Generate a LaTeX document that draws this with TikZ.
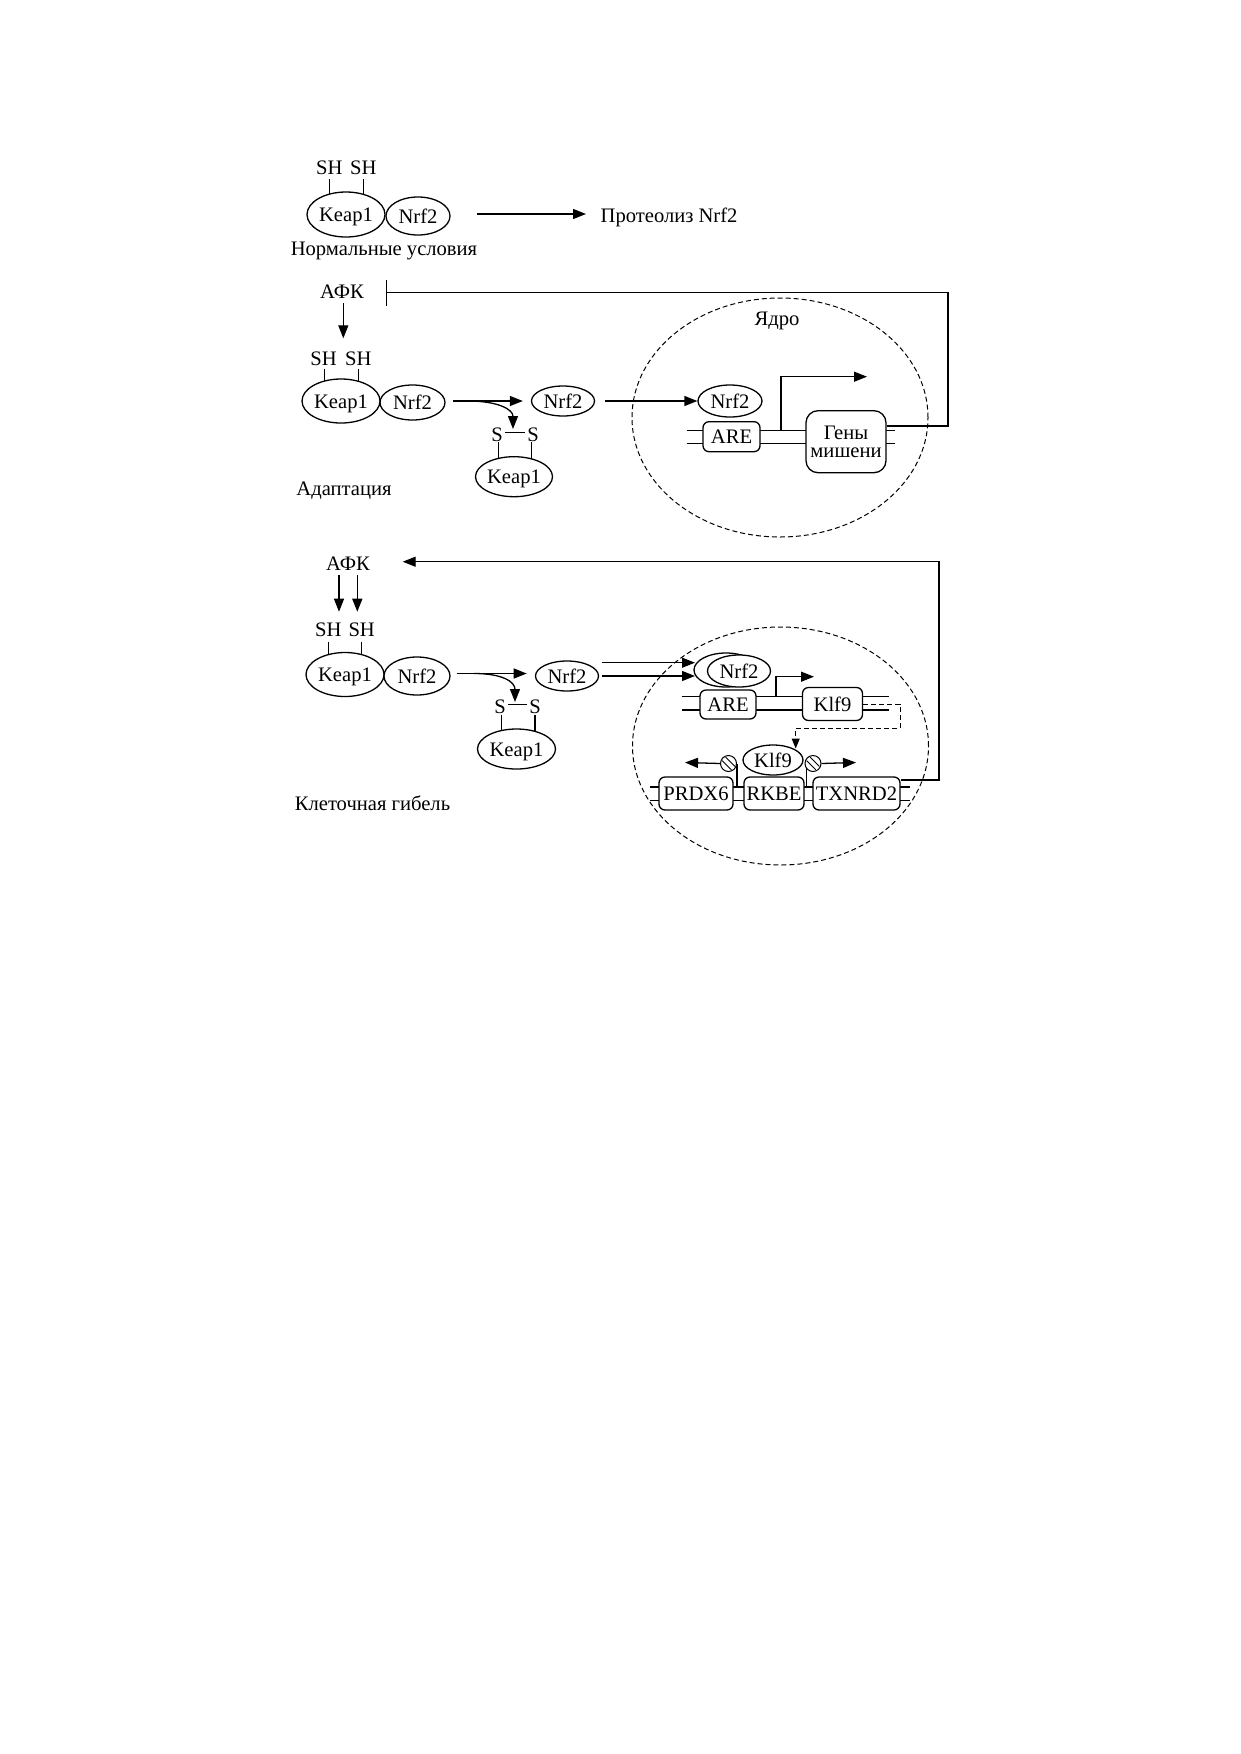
\documentclass[tikz,border=0pt]{standalone}
\usepackage{fontspec}
\setmainfont{Liberation Serif}
\usetikzlibrary{shapes.geometric,arrows.meta}
\begin{document}
\begin{tikzpicture}[x=1pt,y=-1pt,line width=1.3pt,
  font=\fontsize{20.6}{17.4}\selectfont,
  >={Triangle[length=13pt,width=10pt]},
  oval/.style={draw,ellipse,inner sep=0pt,text height=14pt,text depth=0pt,fill=white},
  gbox/.style={draw,fill=white,rounded corners=6pt,inner sep=0pt,text height=14pt,text depth=0pt},
  genebox/.style={draw,fill=white,rounded corners=12pt,inner sep=0pt,align=center},
  lbl/.style={inner sep=0pt,anchor=base},
  nucleus/.style={draw,ellipse,line width=1pt,dash pattern=on 5pt off 3pt,inner sep=0pt},
  dashline/.style={line width=1pt,dash pattern=on 5pt off 3pt},
  inhib/.style={circle,draw,line width=1pt,inner sep=0pt,minimum size=16pt,fill=white},
  hatch/.style={line width=0.9pt}]
\useasboundingbox (0,0) rectangle (1240,1754);
\fill[white] (0,0) rectangle (1240,1754);

% ---------------- Section 1: normal conditions
\node[lbl] (sh1a) at (329.3,174) {SH};
\node[lbl] (sh1b) at (363.3,174) {SH};
\draw ([yshift=-5pt]sh1a.base) -- ++(0,15);
\draw ([yshift=-5pt]sh1b.base) -- ++(0,15);
\node[oval,minimum width=78pt,minimum height=45pt] (k1) at (346,214.5) {Keap1};
\node[oval,minimum width=64pt,minimum height=38pt] (n1) at (418,216) {Nrf2};
\node[lbl,anchor=base west] (prot) at (600,222) {Протеолиз Nrf2};
\coordinate (a1s) at (477,214);
\coordinate (a1e) at (586,214);
\draw[->] (a1s) -- (a1e);
\node[lbl] (norm) at (384,255) {Нормальные условия};

% ---------------- Section 2: adaptation
\node[lbl] (afk2) at (342,298.5) {АФК};
\coordinate (a2s) at (343.3,303.3);
\coordinate (a2e) at (343.3,338.3);
\draw[->] (a2s) -- (a2e);
\node[lbl] (sh2a) at (323.5,365) {SH};
\node[lbl] (sh2b) at (358.3,365) {SH};
\draw ([xshift=0.8pt,yshift=-3.5pt]sh2a.base) -- ++(0,13);
\draw ([yshift=-3.5pt]sh2b.base) -- ++(0,13);
\node[oval,minimum width=78pt,minimum height=44pt] (k2) at (341,401) {Keap1};
\node[oval,minimum width=65pt,minimum height=35pt] (n2) at (412.5,402.5) {Nrf2};
\node[oval,minimum width=63pt,minimum height=30pt] (n2f) at (563,401) {Nrf2};
\coordinate (b2s) at (453.3,401);
\draw[->] (b2s) -- ([xshift=-8pt]n2f.west);
\coordinate (c2s) at (468,401);
\coordinate (c2e) at (513,429);
\draw[->] (c2s) .. controls (497,401) and (513,409) .. (c2e);
\node[lbl] (s2a) at (497,441) {S};
\node[lbl] (s2b) at (533,441) {S};
\draw ([xshift=2pt,yshift=2pt]s2a.east) -- ([xshift=-2pt,yshift=2pt]s2b.west);
\draw ([xshift=1.3pt,yshift=-1pt]s2a.base) -- ++(0,17);
\draw ([xshift=-1.3pt,yshift=-1pt]s2b.base) -- ++(0,17);
\node[oval,minimum width=77pt,minimum height=40pt] (k2b) at (514,476.7) {Keap1};
\node[lbl] (adapt) at (344,495) {Адаптация};

\node[nucleus,minimum width=296pt,minimum height=239pt] (nuc2) at (780,417.5) {};
\node[lbl] (yadro) at (777,325.5) {Ядро};
\coordinate (d2s) at (605,401);
\draw (686.7,430.7) -- (895,430.7);
\draw (686.7,443.3) -- (895,443.3);
\node[oval,minimum width=64pt,minimum height=32pt] (n2n) at (730,401) {Nrf2};
\draw[->] (d2s) -- (n2n.west);
\node[gbox,minimum width=57pt,minimum height=30pt] (are2) at (731.5,436.7) {ARE};
\node[genebox,minimum width=80pt,minimum height=62pt] (genes) at (846,441.7) {Гены\\мишени};
\coordinate (t2s) at (781,430.7);
\coordinate (t2e) at (867,376.7);
\draw[->] (t2s) |- (t2e);
\coordinate (f2s) at ([yshift=15.7pt]genes.east);
\coordinate (f2c) at (948,292.7);
\coordinate (f2e) at (386,292.7);
\draw[-{Bar[width=26pt]}] (f2s) -| (f2c) -- (f2e);

% ---------------- Section 3: cell death
\node[lbl] (afk3) at (348,570) {АФК};
\coordinate (a3s) at (339,575);
\coordinate (a3e) at (339,611.7);
\coordinate (a3s2) at (357.3,575);
\coordinate (a3e2) at (357.3,611.7);
\draw[->] (a3s) -- (a3e);
\draw[->] (a3s2) -- (a3e2);
\node[lbl] (sh3a) at (328.3,636.5) {SH};
\node[lbl] (sh3b) at (361.7,636.5) {SH};
\draw ([yshift=-5pt]sh3a.base) -- ++(0,13.5);
\draw ([yshift=-5pt]sh3b.base) -- ++(0,13.5);
\node[oval,minimum width=78pt,minimum height=44pt] (k3) at (345,674.5) {Keap1};
\node[oval,minimum width=66pt,minimum height=38pt] (n3) at (417,676) {Nrf2};
\node[oval,minimum width=63pt,minimum height=30pt] (n3f) at (567,676) {Nrf2};
\coordinate (b3s) at (456.7,673.5);
\coordinate (b3e) at (526.7,673.5);
\draw[->] (b3s) -- (b3e);
\coordinate (c3s) at (474,673.5);
\coordinate (c3e) at (515,702);
\draw[->] (c3s) .. controls (503,673.5) and (515,682) .. (c3e);
\node[lbl] (s3a) at (500,713.5) {S};
\node[lbl] (s3b) at (535,713.5) {S};
\draw ([xshift=2pt,yshift=2.5pt]s3a.east) -- ([xshift=-2pt,yshift=2.5pt]s3b.west);
\draw ([xshift=1.5pt,yshift=-1pt]s3a.base) -- ++(0,17);
\draw ([yshift=-1pt]s3b.base) -- ++(0,17);
\node[oval,minimum width=78pt,minimum height=40pt] (k3b) at (516.5,749) {Keap1};
\node[lbl] (death) at (372.5,810) {Клеточная гибель};

\node[nucleus,minimum width=296pt,minimum height=238pt] (nuc3) at (780.5,746) {};
% upper DNA
\draw (681.7,696.7) -- (889,696.7);
\draw (681.7,710) -- (889,710);
\node[oval,minimum width=64pt,minimum height=34pt] (n3o) at (726,670) {};
\node[oval,minimum width=63pt,minimum height=32pt] (n3n) at (739,671) {Nrf2};
\coordinate (d3s) at (601.7,662.7);
\coordinate (d3e) at (695,662.7);
\coordinate (d3s2) at (601.7,676);
\coordinate (d3e2) at (695,676);
\draw[->] (d3s) -- (d3e);
\draw[->] (d3s2) -- (d3e2);
\node[gbox,minimum width=56pt,minimum height=29pt] (are3) at (728,704.5) {ARE};
\node[gbox,minimum width=60pt,minimum height=33pt] (klf9b) at (832.5,704) {Klf9};
\coordinate (t3s) at (776,696.7);
\coordinate (t3e) at (814,676.7);
\draw[->] (t3s) |- (t3e);
\coordinate (g3a) at (900,728.3);
\coordinate (g3b) at (795.7,748.5);
\draw[dashline,-{Triangle[length=10pt,width=8pt]}] (klf9b.east) -| (g3a) -| (g3b);
% lower DNA
\draw (650,787) -- (910,787);
\draw (650,800.5) -- (910,800.5);
\node[gbox,minimum width=74pt,minimum height=33pt] (prdx) at (696,793.5) {PRDX6};
\node[gbox,minimum width=60pt,minimum height=33pt] (rkbe) at (774,793.5) {RKBE};
\node[gbox,minimum width=87pt,minimum height=33pt] (txn) at (856.5,793.5) {TXNRD2};
\node[oval,minimum width=60pt,minimum height=30pt] (klf9e) at (773,760) {Klf9};
\coordinate (v3a) at (737,787);
\coordinate (v3b) at (806.5,787);
\draw (737,763.5) -- (v3a);
\draw (806.5,763.5) -- (v3b);
\node[inhib] (ca) at (728.5,763.5) {};
\node[inhib] (cb) at (813,763.5) {};
\foreach \c in {ca,cb}{
  \begin{scope}[shift={(\c.center)}]
    \clip (0,0) circle[radius=7pt];
    \draw[hatch] (-6.2,-9.8) -- (9.8,6.2);
    \draw[hatch] (-9.8,-6.2) -- (6.2,9.8);
  \end{scope}
}
\coordinate (e3a) at (685,762.5);
\coordinate (e3b) at (856,762.5);
\draw[->] (ca.west) -- (e3a);
\draw[->] (cb.east) -- (e3b);
\coordinate (f3s) at ([yshift=13.5pt]txn.east);
\coordinate (f3c) at (939,561.7);
\coordinate (f3e) at (402.7,561.7);
\draw[->] (f3s) -| (f3c) -- (f3e);
\end{tikzpicture}
\end{document}
